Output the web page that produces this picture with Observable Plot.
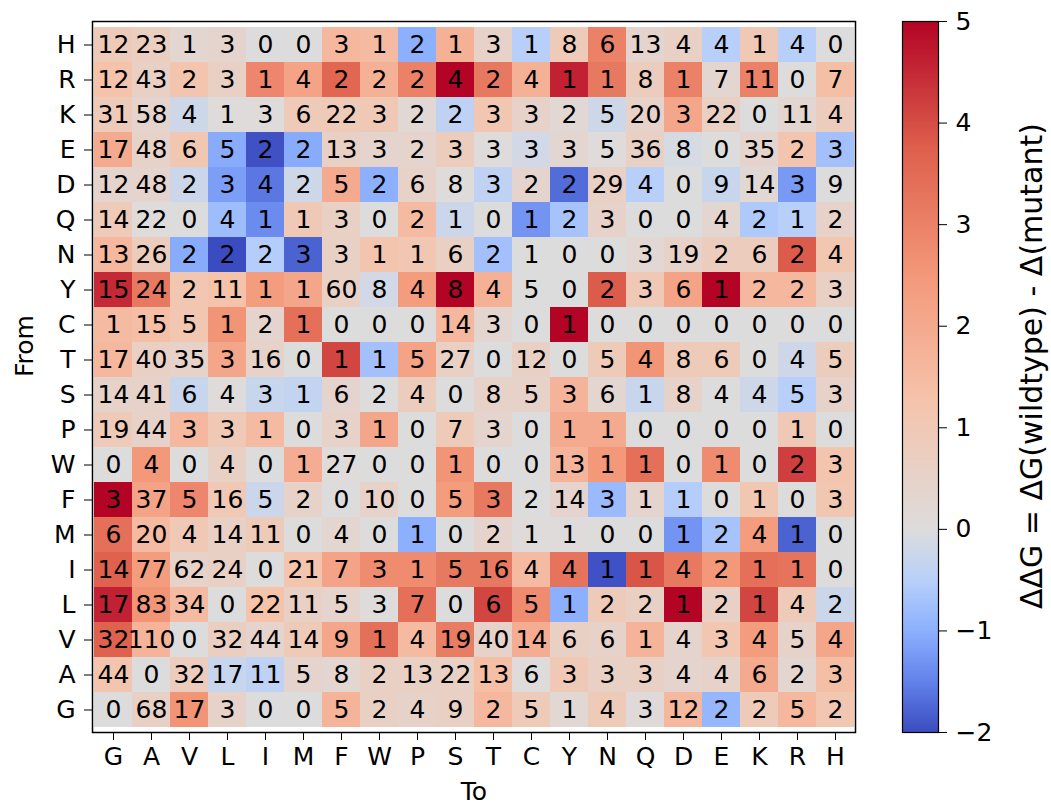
<!DOCTYPE html>
<html>
<head>
<meta charset="utf-8">
<script src="https://cdn.jsdelivr.net/npm/d3@7"></script>
<script src="https://cdn.jsdelivr.net/npm/@observablehq/plot@0.6"></script>
<style>
  html, body { margin: 0; padding: 0; background: white; }
  #wrap { position: relative; width: 1051px; height: 807px; overflow: hidden; }
  #wrap > svg { position: absolute; top: 0; }
</style>
</head>
<body>
<div id="wrap"></div>
<script>
// Categories
const fromLabels = ["H","R","K","E","D","Q","N","Y","C","T","S","P","W","F","M","I","L","V","A","G"];
const toLabels   = ["G","A","V","L","I","M","F","W","P","S","T","C","Y","N","Q","D","E","K","R","H"];

// Counts shown in each cell (rows = From, columns = To)
const countRows = [
  [12,23,1,3,0,0,3,1,2,1,3,1,8,6,13,4,4,1,4,0],
  [12,43,2,3,1,4,2,2,2,4,2,4,1,1,8,1,7,11,0,7],
  [31,58,4,1,3,6,22,3,2,2,3,3,2,5,20,3,22,0,11,4],
  [17,48,6,5,2,2,13,3,2,3,3,3,3,5,36,8,0,35,2,3],
  [12,48,2,3,4,2,5,2,6,8,3,2,2,29,4,0,9,14,3,9],
  [14,22,0,4,1,1,3,0,2,1,0,1,2,3,0,0,4,2,1,2],
  [13,26,2,2,2,3,3,1,1,6,2,1,0,0,3,19,2,6,2,4],
  [15,24,2,11,1,1,60,8,4,8,4,5,0,2,3,6,1,2,2,3],
  [1,15,5,1,2,1,0,0,0,14,3,0,1,0,0,0,0,0,0,0],
  [17,40,35,3,16,0,1,1,5,27,0,12,0,5,4,8,6,0,4,5],
  [14,41,6,4,3,1,6,2,4,0,8,5,3,6,1,8,4,4,5,3],
  [19,44,3,3,1,0,3,1,0,7,3,0,1,1,0,0,0,0,1,0],
  [0,4,0,4,0,1,27,0,0,1,0,0,13,1,1,0,1,0,2,3],
  [3,37,5,16,5,2,0,10,0,5,3,2,14,3,1,1,0,1,0,3],
  [6,20,4,14,11,0,4,0,1,0,2,1,1,0,0,1,2,4,1,0],
  [14,77,62,24,0,21,7,3,1,5,16,4,4,1,1,4,2,1,1,0],
  [17,83,34,0,22,11,5,3,7,0,6,5,1,2,2,1,2,1,4,2],
  [32,110,0,32,44,14,9,1,4,19,40,14,6,6,1,4,3,4,5,4],
  [44,0,32,17,11,5,8,2,13,22,13,6,3,3,3,4,4,6,2,3],
  [0,68,17,3,0,0,5,2,4,9,2,5,1,4,3,12,2,2,5,2]
];

// ΔΔG values (colour)
const ddgRows = [
  [0.9,0.7,0.3,0.4,0,0,1.6,1.5,-1.0,1.8,0.5,-0.5,0.9,3.0,0.4,0.6,-0.5,1.0,-0.5,0],
  [1.3,0.6,1.2,0.6,2.9,2.2,3.6,1.8,3.0,5.0,3.2,1.8,4.6,3.2,0.8,3.0,0.3,3.0,0,1.4],
  [0.9,0.4,-0.2,0.05,0.05,0.9,0.9,1.0,0.2,-0.4,1.1,0.5,0.2,-0.2,0.5,2.1,0.6,0,0.3,0.8],
  [2.0,0.5,1.1,-1.05,-1.95,-1.05,0.6,0.4,0.4,0.8,0.05,-0.15,0.3,0.05,0.6,-0.1,0,0.4,1.2,-0.75],
  [0.4,0.4,-0.25,-1.2,-1.6,-0.2,2.0,-1.0,0.5,0.05,-0.4,0.4,-1.7,0.6,-0.5,0,-0.3,0.2,-1.25,0],
  [0.9,0.05,0,-0.8,-1.4,1.0,0.6,0,1.5,-0.25,0,-1.3,-0.7,0.5,0,0,0.3,-0.6,-0.5,0.5],
  [1.6,0.8,-1.05,-2.0,-0.55,-1.8,0.6,1.2,1.1,0.6,-0.75,0,0,0,0.25,0.5,0.8,0.8,3.8,1.1],
  [4.5,3.2,1.1,1.3,2.4,2.1,0.6,-0.15,2.4,5.0,1.8,0,0,3.8,1.0,2.2,5.0,1.6,1.6,0.6],
  [1.5,1.4,1.1,2.6,0.4,3.4,0,0,0,1.6,0.3,0,5.0,0,0,0,0,0,0,0],
  [1.6,0.6,0.5,2.1,0.5,0,4.1,-0.75,2.2,0.6,0,0.6,0,0.9,2.6,0.9,0.9,0,-0.2,0.8],
  [0.5,0.5,-0.3,0.05,-0.3,-0.35,0.4,0,0.8,0,0.5,0.5,1.7,0.3,-0.3,0.5,0,-0.2,-0.5,0.5],
  [0.9,0.5,1.6,1.0,1.5,0,0.5,2.1,0,0.9,0.4,0,2.0,2.0,0,0,0,0,1.0,0],
  [0,2.5,0,0.6,0,1.9,0.05,0,0,2.6,0,0,1.7,2.5,3.4,0,2.8,0,4.2,1.2],
  [5.0,2.2,2.9,1.0,-0.25,0.5,0,0.5,0,2.4,3.2,0,0.4,-0.85,0.4,-0.55,0,1.1,0,1.1],
  [3.4,1.5,1.0,0.6,0.9,0,0.3,0,-1.0,0,0.4,0.05,0.05,0,0,-1.3,-0.7,2.4,-1.8,0],
  [3.7,2.4,0.5,0.6,0,1.2,2.2,2.8,2.8,3.2,3.2,1.5,3.3,-1.95,3.9,3.2,2.5,3.4,3.3,0],
  [4.6,2.6,1.5,0,1.3,0.6,0.4,0.05,3.4,0,4.1,2.8,-1.0,0.9,0.6,5.0,0.6,4.1,0.9,-0.25],
  [3.7,1.7,0,0.7,0.4,0.9,2.1,3.4,1.5,3.1,0.5,1.9,0.6,0.5,1.7,0.4,1.1,2.4,0.5,2.1],
  [1.2,0,0.8,-0.3,-0.4,0.4,0.3,0.6,0.6,0.6,1.4,0.05,1.0,0.6,0.6,0.4,0.5,2.0,0.3,1.4],
  [0,0.6,2.6,0.5,0,0,1.7,0.6,0.5,0.6,1.6,0.9,0.2,0.9,0.1,1.6,-0.9,0.9,1.6,1.1]
];

// Colour bar ticks and label
const cbarTicks = [-2,-1,0,1,2,3,4,5];
const cbarLabel = "ΔΔG = ΔG(wildtype) - Δ(mutant)";

// coolwarm colormap, centred on 0 (two-slope normalisation)
const cwDomain = [-2,-1.5,-1,-0.5,0,1.25,2.5,3.75,5];
const cwRange  = ["#3b4cc0","#6282ea","#8db0fe","#b8d0f9","#dddcdc","#f5c4ac","#f4987a","#de604d","#b40426"];
const colorOpts = {type: "linear", domain: cwDomain, range: cwRange, interpolate: "rgb", clamp: true};

const data = [];
fromLabels.forEach((f, i) => toLabels.forEach((t, j) => {
  data.push({from: f, to: t, count: countRows[i][j], ddg: ddgRows[i][j]});
}));

const fontFamily = "'DejaVu Sans', 'Liberation Sans', sans-serif";
const minus = d => d < 0 ? "\u2212" + Math.abs(d) : String(d);

const heat = Plot.plot({
  width: 1051, height: 807,
  marginLeft: 92, marginRight: 196, marginTop: 21, marginBottom: 75,
  style: {fontFamily, fontSize: "25px", background: "transparent", color: "black"},
  x: {domain: toLabels, padding: 0, label: null, tickSize: 8, tickPadding: 7},
  y: {domain: fromLabels, padding: 0, label: null, tickSize: 8, tickPadding: 9},
  color: colorOpts,
  marks: [
    Plot.cell(data, {x: "to", y: "from", fill: "ddg", inset: 0}),
    Plot.text(data, {x: "to", y: "from", text: "count", fill: "black", fontSize: 25}),
    Plot.frame({stroke: "black", strokeWidth: 1.5}),
    Plot.text(["To"], {frameAnchor: "bottom", dy: 67, fontSize: 25, fill: "black"}),
    Plot.text(["From"], {frameAnchor: "left", dx: -68, rotate: -90, fontSize: 25, fill: "black"})
  ]
});

const cbarLeft = 880;
const cbar = Plot.plot({
  width: 171, height: 807,
  marginLeft: 22, marginRight: 113, marginTop: 21, marginBottom: 75,
  style: {fontFamily, fontSize: "25px", background: "transparent", color: "black"},
  x: {domain: [0, 1], axis: null},
  y: {domain: [-2, 5], ticks: cbarTicks, tickFormat: minus, tickSize: 8, tickPadding: 9, axis: "right", label: null},
  color: colorOpts,
  marks: [
    Plot.raster({fill: (x, y) => y, x1: 0, x2: 1, y1: -2, y2: 5, width: 2, height: 711}),
    Plot.frame({stroke: "black", strokeWidth: 1.2}),
    Plot.text([cbarLabel], {frameAnchor: "right", textAnchor: "middle", dx: 94, dy: -11, rotate: -90, fontSize: 30, fill: "black"})
  ]
});

const wrap = document.getElementById("wrap");
heat.style.left = "0px";
cbar.style.left = cbarLeft + "px";
wrap.appendChild(heat);
wrap.appendChild(cbar);
</script>
</body>
</html>
